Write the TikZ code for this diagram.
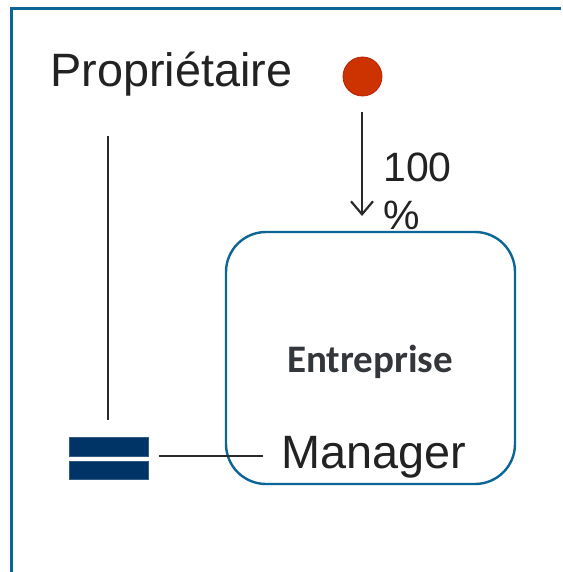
\documentclass[tikz,border=0pt]{standalone}
\usepackage{fontspec}
\setmainfont{Liberation Sans}
\newfontfamily\carlito{Carlito}
\usetikzlibrary{arrows.meta}
\definecolor{frameblue}{HTML}{0B6597}
\definecolor{navy}{HTML}{003366}
\definecolor{dotred}{HTML}{CC3300}
\definecolor{dotedge}{HTML}{B82200}
\definecolor{txt}{HTML}{222222}
\definecolor{boldtxt}{HTML}{33363A}
\definecolor{linegray}{HTML}{2A2A2A}
\tikzset{
  framestyle/.style={draw=frameblue, line width=2.4pt},
  entbox/.style={draw=frameblue, line width=2.4pt, rounded corners=40pt, minimum width=289pt, minimum height=252pt, inner sep=0pt},
  lbl/.style={font=\fontsize{46.8}{50}\selectfont, text=txt, inner sep=0pt},
  pctlbl/.style={font=\fontsize{41}{48}\selectfont, text=txt, inner sep=0pt, align=left},
  boldlbl/.style={font=\carlito\bfseries\fontsize{39}{44}\selectfont, text=boldtxt, inner sep=0pt},
  ownerdot/.style={circle, fill=dotred, draw=dotedge, line width=0.8pt, minimum size=39pt, inner sep=0pt},
  navybar/.style={fill=navy, draw=navy!80!white, line width=0.5pt, minimum width=79pt, inner sep=0pt},
  conn/.style={draw=linegray, line width=1.8pt},
  arrowconn/.style={draw=linegray, line width=2.2pt, -{Straight Barb[length=13pt,width=22pt,line width=2.2pt]}}
}
\begin{document}
\begin{tikzpicture}[x=1pt,y=-1pt]
\useasboundingbox (0,0) rectangle (562,572);
\draw[framestyle] (11.5,573) -- (11.5,8.5) -- (561,8.5);
\node[entbox] (ent) at (370.5,358) {};
\node[boldlbl, anchor=base] (entlbl) at (370,372) {Entreprise};
\node[lbl, anchor=base west] (prop) at (50,87) {Propriétaire};
\node[lbl, anchor=base west] (mgr) at (281,468) {Manager};
\node[ownerdot] (owner) at (362.5,76.5) {};
\node[pctlbl, anchor=base west] (pct) at (383,229) {100\\\%};
\node[navybar, minimum height=19pt] (bar1) at (108.5,446.5) {};
\node[navybar, minimum height=18pt] (bar2) at (108.5,470) {};
\coordinate (vtop) at (108,136);
\coordinate (vbot) at (108,420);
\draw[conn] (vtop) -- (vbot);
\coordinate (hleft) at (159,456);
\coordinate (hright) at (263,456);
\draw[conn] (hleft) -- (hright);
\coordinate (atop) at (362,112);
\coordinate (abot) at (362,216);
\draw[arrowconn] (atop) -- (abot);
\end{tikzpicture}
\end{document}
